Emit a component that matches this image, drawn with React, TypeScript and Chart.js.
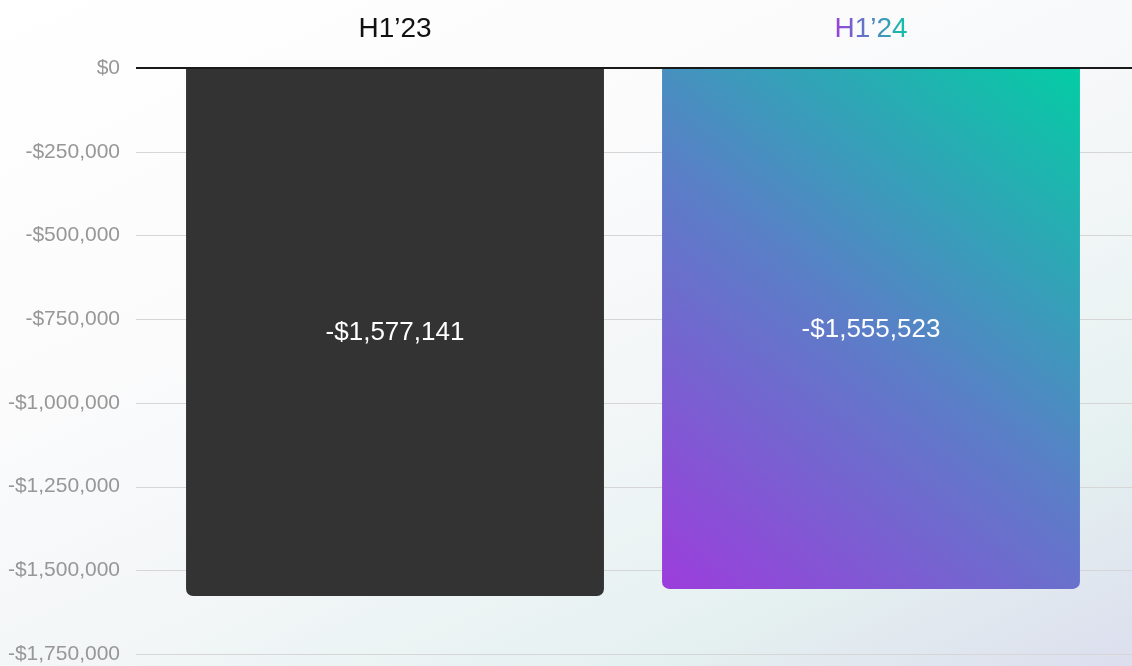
import React, { useEffect, useRef } from "react";
import { Chart, registerables } from "chart.js";

Chart.register(...registerables);

const categories = ["H1\u201923", "H1\u201924"];
const values = [-1577141, -1555523];
const valueLabels = ["-$1,577,141", "-$1,555,523"];
const yMin = -1750000;
const yMax = 0;
const yStep = 250000;

const W = 1132;
const H = 666;
const BAR_PCT = 0.878;
const FONT = "'Liberation Sans', Arial, sans-serif";

function fmtTick(v: number): string {
  if (v === 0) return "$0";
  const a = Math.abs(v).toLocaleString("en-US");
  return (v < 0 ? "-$" : "$") + a;
}

const gridPlugin = {
  id: "customGrid",
  beforeDatasetsDraw(chart: any) {
    const { ctx } = chart;
    const ys = chart.scales.y;
    ctx.save();
    ctx.strokeStyle = "#d6d6d6";
    ctx.lineWidth = 1.2;
    ys.ticks.forEach((t: any) => {
      if (t.value === 0) return;
      const y = Math.round(ys.getPixelForValue(t.value)) + 0.5;
      ctx.beginPath();
      ctx.moveTo(136, y);
      ctx.lineTo(chart.width, y);
      ctx.stroke();
    });
    ctx.restore();
  },
  afterDatasetsDraw(chart: any) {
    const { ctx } = chart;
    const ys = chart.scales.y;
    const y0 = ys.getPixelForValue(0);
    ctx.save();
    ctx.strokeStyle = "#1a1a1a";
    ctx.lineWidth = 2;
    ctx.beginPath();
    ctx.moveTo(136, y0);
    ctx.lineTo(chart.width, y0);
    ctx.stroke();
    // value labels
    const meta = chart.getDatasetMeta(0);
    ctx.fillStyle = "#ffffff";
    ctx.font = `26px ${FONT}`;
    ctx.textAlign = "center";
    ctx.textBaseline = "middle";
    meta.data.forEach((el: any, i: number) => {
      const p = el.getProps(["x", "y", "base"], true);
      ctx.fillText(valueLabels[i], p.x, (p.y + p.base) / 2 + 1);
    });
    ctx.restore();
  },
};

export default function App() {
  const ref = useRef<HTMLCanvasElement | null>(null);

  useEffect(() => {
    document.body.style.margin = "0";
    const canvas = ref.current;
    if (!canvas) return;

    const barColor = (c: any) => {
      if (c.dataIndex === 0) return "#333333";
      const chart = c.chart;
      const xs = chart.scales && chart.scales.x;
      const ys = chart.scales && chart.scales.y;
      if (!xs || !ys || !chart.chartArea) return "#5a80c6";
      const xc = xs.getPixelForValue(c.dataIndex);
      const half = ((xs.width / categories.length) * BAR_PCT) / 2;
      const g = chart.ctx.createLinearGradient(
        xc - half,
        ys.getPixelForValue(values[c.dataIndex]),
        xc + half,
        ys.getPixelForValue(0)
      );
      g.addColorStop(0, "#9c3ddc");
      g.addColorStop(0.5, "#5a7fc7");
      g.addColorStop(1, "#03cda4");
      return g;
    };

    const tickColor = (c: any) => {
      if (c.index === 0) return "#111111";
      const chart = c.chart;
      // label is drawn after ctx.translate to its anchor (centre), so use local coords
      const g = chart.ctx.createLinearGradient(-37, 0, 37, 0);
      g.addColorStop(0, "#9b3fdd");
      g.addColorStop(1, "#0cc5a6");
      return g;
    };

    const chart = new Chart(canvas, {
      type: "bar",
      data: {
        labels: categories,
        datasets: [
          {
            data: values,
            backgroundColor: barColor as any,
            borderRadius: 7,
            borderSkipped: "start",
            barPercentage: BAR_PCT,
            categoryPercentage: 1,
          },
        ],
      },
      options: {
        responsive: false,
        animation: false,
        layout: { padding: { top: 0, right: 23, bottom: 0, left: 0 } },
        plugins: {
          legend: { display: false },
          tooltip: { enabled: false },
        },
        scales: {
          x: {
            position: "top",
            grid: { display: false, drawTicks: false },
            border: { display: false },
            ticks: {
              color: tickColor as any,
              font: { family: FONT, size: 28 },
              padding: 22,
            },
            afterFit: (s: any) => {
              s.height = 68;
            },
          },
          y: {
            min: yMin,
            max: yMax,
            grid: { display: false, drawTicks: false },
            border: { display: false },
            ticks: {
              stepSize: yStep,
              color: "#979797",
              font: { family: FONT, size: 21 },
              padding: 37,
              callback: (v: any) => fmtTick(Number(v)),
            },
            afterFit: (s: any) => {
              s.width = 157;
              s.paddingTop = 0;
              s.paddingBottom = 12;
            },
          },
        },
      },
      plugins: [gridPlugin],
    });
    return () => chart.destroy();
  }, []);

  return (
    <div
      style={{
        width: W,
        height: H,
        position: "relative",
        background:
          "linear-gradient(155deg, #ffffff 0%, #fbfbfc 35%, #f2f6f7 60%, #e5f1f0 80%, #dcdeee 100%)",
      }}
    >
      <canvas ref={ref} width={W} height={H} style={{ display: "block" }} />
    </div>
  );
}
